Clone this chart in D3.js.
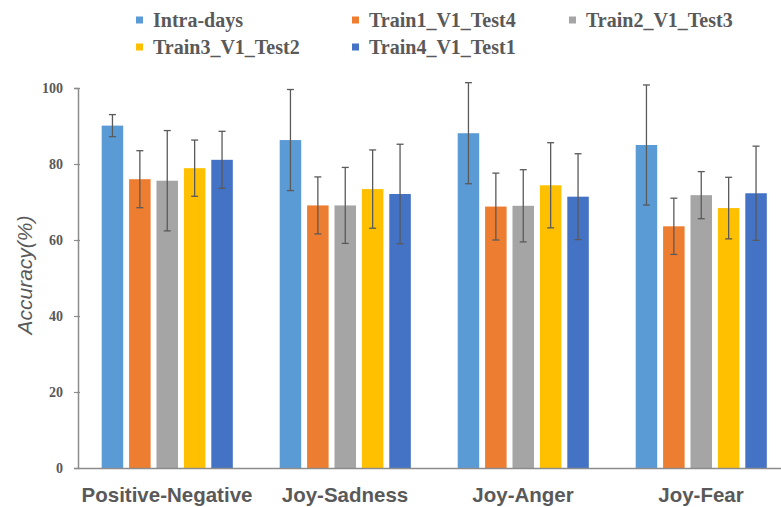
<!DOCTYPE html>
<html>
<head>
<meta charset="utf-8">
<script src="https://cdn.jsdelivr.net/npm/d3@7"></script>
<style>
  html, body { margin: 0; padding: 0; background: #fff; }
  svg { display: block; }
</style>
</head>
<body>
<svg id="chart" width="781" height="507"></svg>
<script>
// Category groups along the x axis
const categories = ["Positive-Negative", "Joy-Sadness", "Joy-Anger", "Joy-Fear"];

// Series names (legend order)
const seriesNames = ["Intra-days", "Train1_V1_Test4", "Train2_V1_Test3", "Train3_V1_Test2", "Train4_V1_Test1"];
const seriesColors = ["#5B9BD5", "#ED7D31", "#A5A5A5", "#FFC000", "#4472C4"];

// Mean accuracy (%) per series, one value per category
const intraDays = [90.1, 86.3, 88.1, 85.0];
const train1V1Test4 = [76.0, 69.1, 68.8, 63.6];
const train2V1Test3 = [75.6, 69.1, 69.0, 71.8];
const train3V1Test2 = [78.9, 73.4, 74.4, 68.4];
const train4V1Test1 = [81.1, 72.1, 71.4, 72.3];

// Standard deviations (error bar half-lengths)
const intraDaysErr = [2.9, 13.3, 13.3, 15.8];
const train1V1Test4Err = [7.5, 7.5, 8.8, 7.4];
const train2V1Test3Err = [13.2, 10.0, 9.5, 6.2];
const train3V1Test2Err = [7.4, 10.3, 11.2, 8.1];
const train4V1Test1Err = [7.5, 13.1, 11.3, 12.4];

const yTicks = [0, 20, 40, 60, 80, 100];

const seriesValues = [intraDays, train1V1Test4, train2V1Test3, train3V1Test2, train4V1Test1];
const seriesErrors = [intraDaysErr, train1V1Test4Err, train2V1Test3Err, train3V1Test2Err, train4V1Test1Err];

const rows = [];
categories.forEach((c, ci) => {
  seriesNames.forEach((s, si) => {
    rows.push({ category: c, series: s, si, value: seriesValues[si][ci], err: seriesErrors[si][ci] });
  });
});

const svg = d3.select("#chart");
const textColor = "#595959";
const axisColor = "#8c8c8c";

const x0 = 78, x1 = 790, yTop = 88, yBottom = 468;

const x = d3.scaleBand().domain(categories).range([x0, x1]).padding(0);
const xInner = d3.scaleBand().domain(seriesNames)
  .range([20.75, 157.75]).paddingInner(0.215).paddingOuter(0.1075);
const y = d3.scaleLinear().domain([0, 100]).range([yBottom, yTop]);

// Bars
svg.append("g").selectAll("rect").data(rows).join("rect")
  .attr("x", d => x(d.category) + xInner(d.series))
  .attr("y", d => y(d.value))
  .attr("width", xInner.bandwidth())
  .attr("height", d => y(0) - y(d.value))
  .attr("fill", d => seriesColors[d.si]);

// Error bars
const eg = svg.append("g").attr("stroke", "#5a5a5a").attr("stroke-width", 1.3);
rows.forEach(d => {
  const cx = x(d.category) + xInner(d.series) + xInner.bandwidth() / 2;
  const yHi = y(d.value + d.err), yLo = y(d.value - d.err);
  eg.append("line").attr("x1", cx).attr("x2", cx).attr("y1", yHi).attr("y2", yLo);
  eg.append("line").attr("x1", cx - 3.5).attr("x2", cx + 3.5).attr("y1", yHi).attr("y2", yHi);
  eg.append("line").attr("x1", cx - 3.5).attr("x2", cx + 3.5).attr("y1", yLo).attr("y2", yLo);
});

// Y axis
const yAxis = svg.append("g").attr("transform", `translate(${x0},0)`)
  .call(d3.axisLeft(y).tickValues(yTicks).tickSize(4).tickPadding(11).tickFormat(d3.format("d")));
yAxis.select(".domain").attr("stroke", axisColor).attr("stroke-width", 1.5);
yAxis.selectAll(".tick line").attr("stroke", axisColor).attr("stroke-width", 1.2).attr("x1", 2);
yAxis.selectAll(".tick text")
  .attr("fill", textColor)
  .style("font-family", "'Liberation Serif', 'Times New Roman', serif")
  .style("font-weight", "bold")
  .style("font-size", "14px");

// X axis baseline
const xAxis = svg.append("g").attr("transform", `translate(0,${yBottom})`)
  .call(d3.axisBottom(x).tickSize(0).tickPadding(20));
xAxis.select(".domain").attr("stroke", axisColor).attr("stroke-width", 1.5);
xAxis.selectAll(".tick text")
  .attr("fill", textColor)
  .attr("dy", "0")
  .attr("y", 34)
  .style("font-family", "'Liberation Sans', Arial, sans-serif")
  .style("font-weight", "bold")
  .style("font-size", "20.5px");

// Y axis title
svg.append("text")
  .attr("transform", "translate(32,275) rotate(-90)")
  .attr("text-anchor", "middle")
  .attr("fill", textColor)
  .style("font-family", "'Liberation Sans', Arial, sans-serif")
  .style("font-style", "italic")
  .style("font-size", "21px")
  .text("Accuracy(%)");

// Legend
const legendPos = [[136, 27], [352, 27], [569, 27], [136, 54], [352, 54]];
const lg = svg.append("g");
seriesNames.forEach((s, i) => {
  const [lx, ly] = legendPos[i];
  lg.append("rect").attr("x", lx).attr("y", ly - 10.5).attr("width", 7).attr("height", 7)
    .attr("fill", seriesColors[i]);
  lg.append("text").attr("x", lx + 17).attr("y", ly)
    .attr("fill", textColor)
    .style("font-family", "'Liberation Serif', 'Times New Roman', serif")
    .style("font-weight", "bold")
    .style("font-size", "20px")
    .text(s);
});
</script>
</body>
</html>
